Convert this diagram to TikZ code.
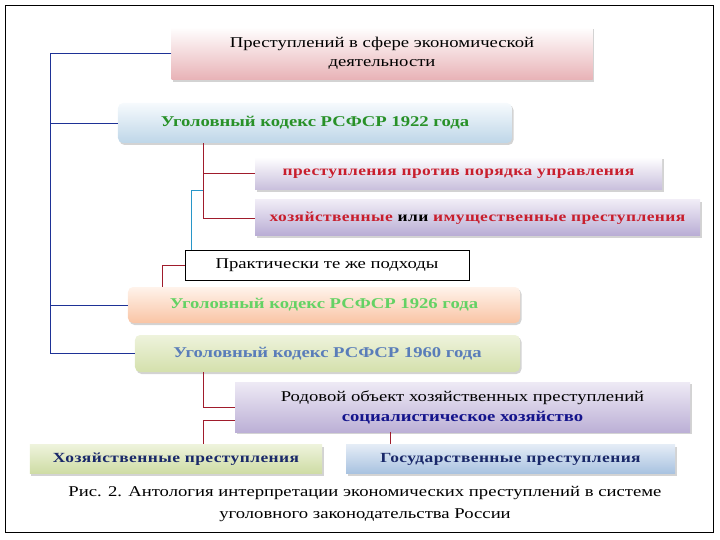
\documentclass[tikz,border=0pt]{standalone}
\usepackage{fontspec}
\setmainfont[FakeStretch=1.25]{Liberation Serif}
\usetikzlibrary{positioning, shadows}
\definecolor{spineblue}{RGB}{30,50,150}
\definecolor{linered}{RGB}{160,28,44}
\definecolor{linecyan}{RGB}{40,150,200}
\definecolor{tgreen}{RGB}{40,145,40}
\definecolor{tlgreen}{RGB}{100,210,100}
\definecolor{tred}{RGB}{200,30,45}
\definecolor{tsteel}{RGB}{90,125,185}
\definecolor{tnavy}{RGB}{25,40,105}
\definecolor{tdblue}{RGB}{20,20,140}

\begin{document}
\begin{tikzpicture}[x=1bp, y=-1bp, font=\fontsize{15}{19}\selectfont,
  box/.style={align=center, inner sep=2bp,
              drop shadow={shadow xshift=1.5bp, shadow yshift=-2bp, opacity=0.35}},
  kodeks/.style={box, rounded corners=5bp, font=\bfseries\fontsize{15}{18}\selectfont},
  vid/.style={box, font=\bfseries\fontsize{14}{17}\selectfont\addfontfeatures{LetterSpace=3}, text=tred},
  itog/.style={box, font=\bfseries\fontsize{14}{17}\selectfont\addfontfeatures{LetterSpace=3}, text=tnavy},
  spine/.style={draw=spineblue, line width=0.8bp},
  rline/.style={draw=linered, line width=0.8bp},
  cline/.style={draw=linecyan, line width=0.8bp},
]
  \useasboundingbox (0,0) rectangle (720,540);
  \draw[line width=0.8bp] (5,5) rectangle (713,532);

  \node[box, minimum width=421bp, minimum height=53bp,
        top color=white, bottom color={rgb,255:red,232;green,178;blue,182}]
    (sfera) at (382,53.5) {Преступлений в сфере экономической\\деятельности};

  \node[kodeks, minimum width=394bp, minimum height=40bp, text=tgreen,
        top color={rgb,255:red,246;green,250;blue,253}, bottom color={rgb,255:red,190;green,214;blue,232}]
    (k1922) at (315,123) {Уголовный кодекс РСФСР 1922 года};
  \node[vid, minimum width=407bp, minimum height=33bp,
        top color=white, bottom color={rgb,255:red,200;green,190;blue,220}]
    (upr) at (458.5,173.5) {преступления против порядка управления};
  \node[vid, minimum width=445bp, minimum height=36bp,
        top color={rgb,255:red,240;green,236;blue,246}, bottom color={rgb,255:red,184;green,172;blue,212}]
    (imush) at (477.5,218) {хозяйственные \textcolor{black}{или} имущественные преступления};

  \node[draw, line width=0.8bp, minimum width=284bp, minimum height=30bp, inner sep=2bp, fill=white]
    (podh) at (327,265) {Практически те же подходы};

  \node[kodeks, minimum width=392bp, minimum height=36bp, text=tlgreen,
        top color={rgb,255:red,255;green,243;blue,235}, bottom color={rgb,255:red,249;green,196;blue,164}]
    (k1926) at (324,305) {Уголовный кодекс РСФСР 1926 года};
  \node[kodeks, minimum width=385bp, minimum height=37bp, text=tsteel,
        top color={rgb,255:red,238;green,243;blue,220}, bottom color={rgb,255:red,212;green,224;blue,172}]
    (k1960) at (327.5,353.5) {Уголовный кодекс РСФСР 1960 года};

  \node[box, minimum width=455bp, minimum height=50bp, font=\fontsize{15}{20}\selectfont,
        top color={rgb,255:red,238;green,234;blue,245}, bottom color={rgb,255:red,188;green,176;blue,214}]
    (rodov) at (462.5,407) {Родовой объект хозяйственных преступлений\\
      \textbf{\textcolor{tdblue}{социалистическое хозяйство}}};

  \node[itog, minimum width=292bp, minimum height=29bp,
        top color={rgb,255:red,238;green,243;blue,220}, bottom color={rgb,255:red,206;green,220;blue,164}]
    (hoz) at (176,459) {Хозяйственные преступления};
  \node[itog, minimum width=329bp, minimum height=29bp,
        top color={rgb,255:red,228;green,236;blue,246}, bottom color={rgb,255:red,168;green,194;blue,224}]
    (gos) at (510.5,459) {Государственные преступления};

  \node[align=center, font=\fontsize{15}{22}\selectfont] (podpis) at (365,504)
    {Рис. 2. Антология интерпретации экономических преступлений в системе\\
     уголовного законодательства России};

  % линии
  \coordinate (sp) at (50,0);
  \coordinate (ra) at (203,0);
  \coordinate (rb) at (162,0);
  \coordinate (rc) at (390,0);
  \coordinate (cy) at (191,0);
  \draw[spine] (sfera.west) -- (sfera.west -| sp) |- (k1960.west);
  \draw[spine] (k1922.west) -- (k1922.west -| sp);
  \draw[spine] (k1926.west) -- (k1926.west -| sp);
  \draw[rline] (k1922.south -| ra) |- (upr.west);
  \draw[rline] (k1922.south -| ra) |- (imush.west);
  \draw[cline] (upr.south -| ra) -| (podh.north -| cy);
  \draw[rline] (podh.west) -| (k1926.north -| rb);
  \draw[rline] (k1960.south -| ra) |- (rodov.west);
  \draw[rline] ([yshift=-13bp]rodov.west) -| (hoz.north -| ra);
  \draw[rline] (rodov.south -| rc) -- (gos.north -| rc);
\end{tikzpicture}
\end{document}
